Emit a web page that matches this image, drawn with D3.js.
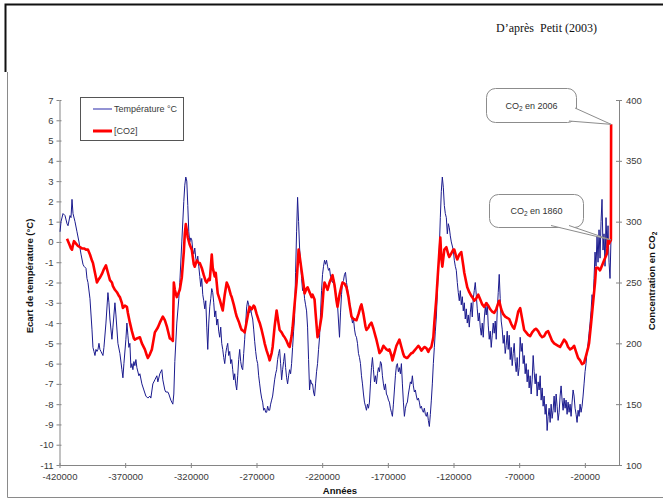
<!DOCTYPE html>
<html><head><meta charset="utf-8">
<script src="https://cdn.jsdelivr.net/npm/d3@7"></script>
<style>
body{margin:0;background:#fff}
svg{display:block}
text{font-family:"Liberation Sans",Arial,sans-serif}
</style>
</head><body>
<svg id="c" width="663" height="500"></svg>
<script>
// ---------- data (years relative to present) ----------
const xTicks = [-420000,-370000,-320000,-270000,-220000,-170000,-120000,-70000,-20000];
const tempTicks = [7,6,5,4,3,2,1,0,-1,-2,-3,-4,-5,-6,-7,-8,-9,-10,-11];
const co2Ticks = [400,350,300,250,200,150,100];
const legendLabels = ["Température °C","[CO2]"];

// Temperature anomaly (°C) : [year, value]
const tempData = [
[-419600,0.5],[-418840,1.0],[-417320,1.4],[-415800,1.3],[-414280,0.9],[-413520,0.8],[-412000,1.3],[-411240,1.2],[-410480,2.1],[-409720,1.4],
[-408200,1.0],[-406680,0.5],[-405160,0.0],[-403640,-0.6],[-402120,-1.1],[-401360,-1.2],[-399840,-1.3],[-399080,-1.8],[-398320,-2.0],[-396800,-2.8],
[-395280,-4.3],[-394520,-5.2],[-393760,-5.4],[-393000,-5.6],[-392240,-5.3],[-391480,-5.4],[-390720,-5.3],[-389960,-5.0],[-389200,-5.3],[-388440,-5.4],
[-386920,-5.6],[-386160,-5.2],[-384640,-4.0],[-383120,-2.5],[-382360,-3.0],[-381600,-3.8],[-380080,-4.8],[-379320,-4.2],[-377800,-3.0],[-377040,-3.6],
[-375520,-5.0],[-374000,-5.5],[-372480,-6.3],[-371720,-6.7],[-370960,-6.0],[-369440,-4.8],[-368680,-4.0],[-367920,-4.6],[-367160,-5.2],[-366400,-5.0],
[-365640,-6.2],[-364880,-6.0],[-364120,-6.3],[-363360,-5.9],[-362600,-6.1],[-361840,-5.8],[-361080,-6.2],[-359560,-6.6],[-358800,-6.5],[-357280,-7.0],
[-355760,-7.3],[-354240,-7.6],[-352720,-7.7],[-351200,-7.6],[-350440,-7.7],[-348920,-7.0],[-347400,-6.8],[-345880,-6.6],[-345120,-6.9],[-343600,-6.5],
[-342080,-6.3],[-341320,-6.8],[-339800,-7.3],[-339040,-7.4],[-337520,-7.4],[-336760,-7.5],[-335240,-7.8],[-333720,-8.0],[-332960,-7.5],[-332200,-5.9],
[-330680,-4.0],[-329160,-2.8],[-328400,-2.0],[-326880,0.0],[-325360,2.0],[-324600,2.8],[-323840,3.2],[-323080,3.0],[-322320,1.8],[-321560,0.5],
[-320800,0.0],[-320040,0.2],[-319280,0.1],[-318520,-0.4],[-317760,-0.6],[-317000,-0.3],[-316240,-0.8],[-315480,-1.0],[-314720,-0.7],[-313960,-1.2],
[-313200,-1.7],[-312440,-2.2],[-311680,-1.8],[-310920,-2.6],[-310160,-2.9],[-309400,-3.3],[-308640,-2.9],[-307880,-4.2],[-307120,-5.3],[-306360,-4.0],
[-305600,-3.2],[-304840,-2.8],[-304080,-2.3],[-303320,-2.5],[-302560,-3.0],[-301800,-3.7],[-301040,-3.4],[-300280,-4.1],[-299520,-3.8],[-298760,-4.4],
[-298000,-4.7],[-297240,-4.2],[-296480,-5.0],[-295720,-5.3],[-294960,-5.7],[-294200,-6.0],[-293440,-5.5],[-292680,-5.2],[-291920,-5.0],[-291160,-5.6],
[-290400,-5.4],[-289640,-6.0],[-288880,-5.8],[-288120,-6.3],[-287360,-6.8],[-286600,-6.5],[-285840,-7.0],[-285080,-7.3],[-284320,-6.6],[-283560,-5.8],
[-282800,-5.3],[-282040,-5.9],[-281280,-6.2],[-280520,-6.3],[-279760,-5.5],[-279000,-4.8],[-278240,-4.0],[-277480,-3.2],[-276720,-2.9],[-275960,-3.1],
[-275200,-3.5],[-274440,-3.3],[-273680,-3.6],[-272920,-3.8],[-272160,-4.3],[-271400,-4.9],[-270640,-5.4],[-269880,-5.8],[-269120,-6.0],[-268360,-6.6],
[-267600,-7.0],[-266840,-7.4],[-266080,-7.7],[-265320,-7.9],[-264560,-8.3],[-263800,-8.2],[-263040,-8.4],[-262280,-8.4],[-261520,-8.1],[-260760,-8.3],
[-260000,-8.3],[-259240,-8.0],[-258480,-7.8],[-257720,-7.6],[-256960,-7.2],[-256200,-6.8],[-255440,-6.5],[-254680,-6.3],[-253920,-5.8],[-253160,-5.5],
[-252400,-5.3],[-251640,-6.0],[-250880,-6.8],[-250120,-6.3],[-249360,-5.9],[-248600,-5.5],[-247840,-6.2],[-247080,-6.7],[-246320,-7.0],[-245560,-6.6],
[-244800,-6.3],[-244040,-6.5],[-243280,-6.0],[-242520,-5.2],[-241760,-4.4],[-241000,-3.7],[-240240,-1.5],[-239480,0.5],[-238720,2.2],[-237960,1.0],
[-237200,-0.3],[-236440,-1.0],[-235680,-1.8],[-234920,-2.4],[-234160,-2.2],[-233400,-2.8],[-232640,-3.1],[-231880,-3.4],[-231120,-4.2],[-230360,-5.8],
[-229600,-7.3],[-228840,-6.8],[-228080,-7.0],[-227320,-7.0],[-226560,-7.4],[-225800,-7.6],[-225040,-7.0],[-224280,-6.4],[-223520,-6.0],[-222760,-5.3],
[-222000,-4.7],[-221240,-3.5],[-220480,-2.4],[-219720,-1.6],[-218960,-1.2],[-218200,-0.9],[-217440,-1.1],[-216680,-0.9],[-215920,-1.2],[-215160,-1.4],
[-214400,-1.3],[-213640,-1.7],[-212880,-1.9],[-212120,-2.0],[-211360,-1.8],[-210600,-2.3],[-209840,-2.5],[-209080,-2.7],[-208320,-3.1],[-207560,-3.9],
[-206800,-4.7],[-206040,-3.5],[-205280,-2.6],[-204520,-2.0],[-203760,-1.9],[-203000,-1.6],[-202240,-1.5],[-201480,-2.0],[-200720,-2.3],[-199960,-2.7],
[-199200,-3.0],[-198440,-3.2],[-197680,-3.7],[-196920,-4.0],[-196160,-3.8],[-195400,-4.3],[-194640,-4.6],[-193880,-4.7],[-193120,-5.0],[-192360,-5.5],
[-191600,-5.7],[-190840,-6.0],[-190080,-6.6],[-189320,-7.0],[-188560,-7.5],[-187800,-7.9],[-187040,-8.1],[-186280,-8.3],[-185520,-8.0],[-184760,-8.2],
[-184000,-7.9],[-183240,-7.0],[-182480,-6.2],[-181720,-5.7],[-180960,-6.3],[-180200,-6.9],[-179440,-6.6],[-178680,-7.0],[-177920,-6.5],[-177160,-6.2],
[-176400,-6.4],[-175640,-5.9],[-174880,-6.0],[-174120,-6.6],[-173360,-7.0],[-172600,-7.3],[-171840,-7.0],[-171080,-7.5],[-170320,-7.6],[-169560,-7.8],
[-168800,-7.9],[-168040,-8.2],[-167280,-8.4],[-166520,-8.6],[-165760,-8.0],[-165000,-7.3],[-164240,-6.6],[-163480,-6.1],[-162720,-6.0],[-161960,-6.4],
[-161200,-6.2],[-160440,-6.5],[-159680,-6.0],[-158920,-7.0],[-158160,-7.9],[-157400,-8.6],[-156640,-8.2],[-155880,-8.0],[-155120,-7.9],[-154360,-7.5],
[-153600,-7.2],[-152840,-6.9],[-152080,-7.0],[-151320,-6.6],[-150560,-7.1],[-149800,-7.4],[-149040,-7.3],[-148280,-7.6],[-147520,-7.8],[-146760,-7.7],
[-146000,-7.9],[-145240,-8.2],[-144480,-8.1],[-143720,-8.3],[-142960,-8.4],[-142200,-8.2],[-141440,-8.5],[-140680,-8.6],[-139920,-8.4],[-139160,-8.8],
[-138400,-9.1],[-137640,-8.5],[-136880,-7.8],[-136120,-7.0],[-135360,-6.0],[-134600,-5.2],[-133840,-4.4],[-133080,-3.7],[-132320,-2.5],[-131560,-1.3],
[-130800,-0.3],[-130040,1.2],[-129280,2.5],[-128520,3.2],[-127760,2.7],[-127000,1.8],[-126240,1.4],[-125480,1.2],[-124720,0.4],[-123960,0.9],
[-123200,0.7],[-122440,0.3],[-121680,0.0],[-120920,-0.2],[-120160,-0.4],[-119400,-0.9],[-118640,-1.2],[-117880,-1.4],[-117120,-2.0],[-116360,-2.5],
[-115600,-2.9],[-114840,-2.4],[-114080,-3.1],[-113320,-2.7],[-112560,-3.4],[-111800,-3.0],[-111040,-3.8],[-110280,-3.3],[-109520,-4.0],[-108760,-3.6],
[-108000,-4.2],[-107240,-3.5],[-106480,-3.0],[-105720,-3.7],[-104960,-2.8],[-104200,-2.4],[-103440,-2.0],[-102680,-2.6],[-101920,-3.3],[-101160,-3.9],
[-100400,-3.5],[-99640,-4.2],[-98880,-4.6],[-98120,-4.0],[-97360,-4.7],[-96600,-3.8],[-95840,-3.2],[-95080,-3.6],[-94320,-3.0],[-93560,-4.1],
[-92800,-4.8],[-92040,-4.4],[-91280,-5.2],[-90520,-4.6],[-89760,-4.0],[-89000,-4.5],[-88240,-3.9],[-87480,-4.8],[-86720,-3.4],[-85960,-2.5],
[-85200,-1.6],[-84440,-2.8],[-83680,-3.9],[-82920,-4.3],[-82160,-5.0],[-81400,-4.6],[-80640,-5.5],[-79880,-5.1],[-79120,-4.4],[-78360,-5.3],
[-77600,-4.6],[-76840,-5.8],[-76080,-5.2],[-75320,-6.1],[-74560,-5.5],[-73800,-5.0],[-73040,-5.9],[-72280,-6.4],[-71520,-5.7],[-70760,-6.6],
[-70000,-6.2],[-69240,-4.7],[-68480,-5.4],[-67720,-5.0],[-66960,-6.0],[-66200,-5.6],[-65440,-6.5],[-64680,-6.0],[-63920,-6.9],[-63160,-6.3],
[-62400,-7.2],[-61640,-6.6],[-60880,-7.5],[-60120,-6.8],[-59360,-5.6],[-58600,-6.4],[-57840,-7.0],[-57080,-6.5],[-56320,-7.6],[-55560,-6.9],
[-54800,-7.3],[-54040,-6.6],[-53280,-7.8],[-52520,-7.2],[-51760,-8.1],[-51000,-7.6],[-50240,-8.5],[-49480,-8.0],[-48720,-9.3],[-47960,-8.6],
[-47200,-8.2],[-46440,-8.9],[-45680,-8.0],[-44920,-8.7],[-44160,-8.3],[-43400,-7.6],[-42640,-8.4],[-41880,-7.5],[-41120,-8.1],[-40360,-8.8],
[-39600,-8.4],[-38840,-7.6],[-38080,-7.1],[-37320,-7.8],[-36560,-8.3],[-35800,-7.7],[-35040,-8.2],[-34280,-7.8],[-33520,-8.5],[-32760,-7.9],
[-32000,-8.4],[-31240,-8.0],[-30480,-8.6],[-29720,-7.9],[-28960,-7.3],[-28200,-7.6],[-27440,-8.2],[-26680,-8.5],[-25920,-8.9],[-25160,-8.3],
[-24400,-8.6],[-23640,-8.0],[-22880,-8.4],[-22120,-8.1],[-21360,-7.6],[-20600,-7.0],[-19840,-6.4],[-19080,-6.0],[-18320,-5.4],[-17560,-5.0],
[-16800,-4.5],[-16040,-4.0],[-15280,-3.4],[-14520,-2.6],[-13760,-3.0],[-13000,-1.8],[-12240,-0.5],[-11480,-1.2],[-10720,0.3],[-9960,-1.0],
[-9200,0.6],[-8440,-0.8],[-7680,1.0],[-6920,2.1],[-6160,-0.4],[-5400,0.4],[-4640,-1.2],[-3880,1.2],[-3120,-0.3],[-2360,0.8],
[-1600,-1.0],[-840,-1.8],[-80,0.2]
];

// CO2 concentration (ppmv) : [year, value]
const co2Data = [
[-414280,286],[-412760,282],[-411240,278],[-410480,277],[-409720,281],[-408960,284],[-407440,282],[-405920,280],[-404400,279],[-402880,278],
[-401360,278],[-399840,277],[-398320,277],[-396800,273],[-395280,268],[-394520,266],[-393000,258],[-391480,250],[-389960,253],[-389200,254],
[-387680,257],[-386160,261],[-384640,264],[-383120,258],[-381600,252],[-380080,250],[-379320,247],[-377800,244],[-376280,242],[-374760,239],
[-374000,238],[-372480,233],[-371720,229],[-370200,231],[-368680,230],[-367920,225],[-366400,217],[-364880,210],[-363360,204],[-362600,203],
[-361080,204],[-358800,205],[-357280,200],[-355000,195],[-353480,190],[-352720,188],[-351200,191],[-349680,195],[-347400,209],[-345120,213],
[-343600,217],[-341320,222],[-339800,219],[-338280,214],[-336000,204],[-334480,203],[-333720,202],[-332960,250],[-332200,244],[-330680,238],
[-329160,242],[-328400,244],[-326880,254],[-325360,275],[-324600,290],[-323840,298],[-323080,293],[-322320,287],[-320800,281],[-319280,277],
[-317760,265],[-317000,263],[-315480,268],[-313960,266],[-313200,266],[-311680,262],[-310160,256],[-308640,251],[-307880,250],[-306360,253],
[-305600,252],[-304840,262],[-304080,273],[-303320,262],[-301800,255],[-301040,258],[-299520,241],[-298000,236],[-296480,230],[-295720,227],
[-294200,240],[-292680,250],[-291160,246],[-289640,240],[-288880,238],[-287360,232],[-285840,225],[-285080,222],[-283560,218],[-282040,213],
[-281280,211],[-279760,210],[-279000,209],[-277480,218],[-275960,227],[-275200,230],[-273680,228],[-272160,231],[-271400,230],[-269880,224],
[-268360,219],[-267600,217],[-266080,211],[-264560,204],[-263800,200],[-262280,194],[-260760,189],[-260000,186],[-258480,192],[-257720,197],
[-256200,214],[-254680,227],[-253160,216],[-252400,211],[-250880,209],[-249360,206],[-248600,205],[-247080,202],[-245560,198],[-244800,197],
[-243280,206],[-242520,213],[-241000,232],[-239480,250],[-237960,277],[-237200,272],[-235680,260],[-234160,248],[-233400,241],[-231880,245],
[-231120,246],[-229600,242],[-228080,238],[-227320,240],[-225800,236],[-225040,225],[-223520,205],[-222000,212],[-220480,222],[-218960,244],
[-218200,250],[-216680,246],[-215920,244],[-214400,250],[-212880,254],[-212120,256],[-210600,248],[-209080,235],[-208320,230],[-206800,240],
[-205280,247],[-204520,250],[-203000,249],[-201480,246],[-199960,238],[-199200,232],[-197680,222],[-196160,220],[-193880,219],[-192360,224],
[-190840,230],[-190080,232],[-188560,224],[-187040,214],[-186280,211],[-184760,213],[-184000,215],[-182480,217],[-180960,212],[-179440,206],
[-178680,203],[-177160,196],[-176400,192],[-174880,194],[-173360,198],[-172600,197],[-171080,195],[-169560,194],[-168800,195],[-167280,190],
[-166520,186],[-165000,192],[-163480,198],[-161200,203],[-159680,197],[-158160,191],[-157400,189],[-155880,188],[-155120,188],[-153600,190],
[-152080,192],[-151320,192],[-149800,194],[-148280,196],[-146760,198],[-146000,197],[-144480,194],[-143720,195],[-142200,197],[-140680,196],
[-139160,193],[-138400,195],[-136880,197],[-135360,205],[-134600,217],[-133080,237],[-132320,250],[-130800,275],[-130040,287],[-129280,270],
[-128520,263],[-127000,277],[-125480,279],[-123960,273],[-123200,271],[-121680,274],[-120160,277],[-119400,277],[-117880,271],[-117120,269],
[-115600,273],[-114080,275],[-112560,264],[-111800,258],[-110280,250],[-109520,246],[-108000,242],[-106480,239],[-105720,238],[-104200,235],
[-102680,237],[-101160,240],[-99640,236],[-98120,232],[-96600,230],[-95080,233],[-93560,231],[-92040,228],[-90520,226],[-89000,225],
[-87480,228],[-85960,233],[-85200,235],[-83680,228],[-82160,224],[-80640,222],[-79120,221],[-77600,220],[-76080,216],[-74560,213],
[-73800,212],[-72280,218],[-70760,226],[-69240,229],[-67720,220],[-66200,211],[-64680,209],[-63160,207],[-61640,206],[-60120,209],
[-58600,211],[-57080,212],[-55560,210],[-54040,207],[-52520,205],[-51000,206],[-49480,209],[-47960,210],[-46440,206],[-44920,202],
[-43400,200],[-41880,199],[-40360,198],[-38840,197],[-37320,200],[-35800,203],[-34280,201],[-32760,197],[-31240,195],[-29720,196],
[-28200,198],[-26680,193],[-25160,188],[-23640,186],[-22120,183],[-20600,184],[-19080,190],[-17560,196],[-16800,200],[-15280,216],
[-13760,233],[-12240,250],[-11480,262],[-9960,262],[-8440,260],[-7680,262],[-6160,266],[-5400,268],[-3880,272],[-3120,274],
[-2360,285],[-1600,282],[-146,285],[0,380]
];

// annotated points
const notes = [
  {label:"en 2006", year:0, value:380},
  {label:"en 1860", year:-146, value:285}
];

// ---------- drawing ----------
const svg = d3.select("#c");
const axisColor = "#858585";
const labelColor = "#3a3a3a";

const x = d3.scaleLinear().domain([-420000, 6000]).range([59.5, 619]);
const yT = d3.scaleLinear().domain([-11, 7]).range([465, 100]);
const yC = d3.scaleLinear().domain([100, 400]).range([465, 100]);

// page frame
svg.append("path").attr("d","M5.5,72V4.5H663").attr("fill","none").attr("stroke","#111").attr("stroke-width",2);
svg.append("path").attr("d","M7.5,72V497.5H663").attr("fill","none").attr("stroke","#8a8a8a").attr("stroke-width",1);

// source text
svg.append("text").attr("x",496).attr("y",32)
  .style("font-family","'Liberation Serif','Times New Roman',serif").style("font-size","12px").attr("fill","#111")
  .text("D\u2019apr\u00e8s\u00a0 Petit (2003)");

function styleAxis(g){
  g.select(".domain").attr("stroke",axisColor);
  g.selectAll(".tick line").attr("stroke",axisColor);
  g.selectAll(".tick text").attr("fill",labelColor).style("font-size","9.5px")
    .style("font-family","'Liberation Sans',Arial,sans-serif");
}

const gx = svg.append("g").attr("transform","translate(0,465)")
  .call(d3.axisBottom(x).tickValues(xTicks).tickSizeInner(3).tickSizeOuter(0).tickPadding(5).tickFormat(d=>String(d)));
styleAxis(gx);
gx.selectAll(".tick").append("line").attr("y2",-2).attr("stroke",axisColor);

const gl = svg.append("g").attr("transform","translate(59.5,0)")
  .call(d3.axisLeft(yT).tickValues(tempTicks).tickSizeInner(3).tickSizeOuter(0).tickPadding(3).tickFormat(d=>String(d)));
styleAxis(gl);
gl.selectAll(".tick").append("line").attr("x2",2).attr("stroke",axisColor);

const gr = svg.append("g").attr("transform","translate(619,0)")
  .call(d3.axisRight(yC).tickValues(co2Ticks).tickSizeInner(3).tickSizeOuter(0).tickPadding(4).tickFormat(d=>String(d)));
styleAxis(gr);
gr.selectAll(".tick").append("line").attr("x2",-3).attr("stroke",axisColor);

// axis titles
svg.append("text").attr("transform","translate(32.5,276) rotate(-90)").attr("text-anchor","middle")
  .style("font-size","9.5px").style("font-weight","bold").attr("fill","#111").text("Ecart de température (°C)");
const rt = svg.append("text").attr("transform","translate(655,281) rotate(-90)").attr("text-anchor","middle")
  .style("font-size","9.5px").style("font-weight","bold").attr("fill","#111");
rt.append("tspan").text("Concentration en CO");
rt.append("tspan").attr("dy",2).style("font-size","6.5px").text("2");
svg.append("text").attr("x",340).attr("y",493.5).attr("text-anchor","middle")
  .style("font-size","9.5px").style("font-weight","bold").attr("fill","#111").text("Années");

// series
const lineT = d3.line().x(d=>x(d[0])).y(d=>yT(d[1]));
const lineC = d3.line().x(d=>x(d[0])).y(d=>yC(d[1]));
svg.append("path").datum(tempData).attr("d",lineT).attr("fill","none")
  .attr("stroke","#1b1b8e").attr("stroke-width",1).attr("stroke-linejoin","round");
svg.append("path").datum(co2Data).attr("d",lineC).attr("fill","none")
  .attr("stroke","#ff0000").attr("stroke-width",2.6).attr("stroke-linejoin","round");

// legend
const lg = svg.append("g");
lg.append("rect").attr("x",80.5).attr("y",97.5).attr("width",103).attr("height",43)
  .attr("fill","#fff").attr("stroke","#555").attr("stroke-width",1);
lg.append("line").attr("x1",93).attr("x2",112).attr("y1",109).attr("y2",109).attr("stroke","#4a4ab8").attr("stroke-width",1.2);
lg.append("text").attr("x",114).attr("y",112).style("font-size","9px").attr("fill",labelColor).text(legendLabels[0]);
lg.append("line").attr("x1",93).attr("x2",112).attr("y1",131).attr("y2",131).attr("stroke","#ff0000").attr("stroke-width",3);
lg.append("text").attr("x",114).attr("y",134).style("font-size","9px").attr("fill",labelColor).text(legendLabels[1]);

// callouts
const boxes = [
  {x:486.5, y:88.5, w:90, h:34, b1:[575,108], b2:[569,121]},
  {x:489.5, y:194.5, w:94, h:33, b1:[551,225.5], b2:[569,225.5]}
];
notes.forEach((n,i)=>{
  const b = boxes[i];
  const g = svg.append("g");
  g.append("rect").attr("x",b.x).attr("y",b.y).attr("width",b.w).attr("height",b.h)
    .attr("rx",9).attr("ry",9).attr("fill","#fff").attr("stroke","#8c8c8c");
  const tip = [x(n.year), yC(n.value)];
  g.append("path").attr("d",`M${b.b1[0]},${b.b1[1]}L${tip[0]},${tip[1]}L${b.b2[0]},${b.b2[1]}`)
    .attr("fill","#fff").attr("stroke","#8c8c8c");
  const t = g.append("text").attr("x",b.x+b.w/2).attr("y",b.y+b.h/2+3).attr("text-anchor","middle")
    .style("font-size","9px").attr("fill","#333");
  t.append("tspan").text("CO");
  t.append("tspan").attr("dy",2).style("font-size","6.5px").text("2");
  t.append("tspan").attr("dy",-2).text(" " + n.label);
});
</script>
</body></html>
